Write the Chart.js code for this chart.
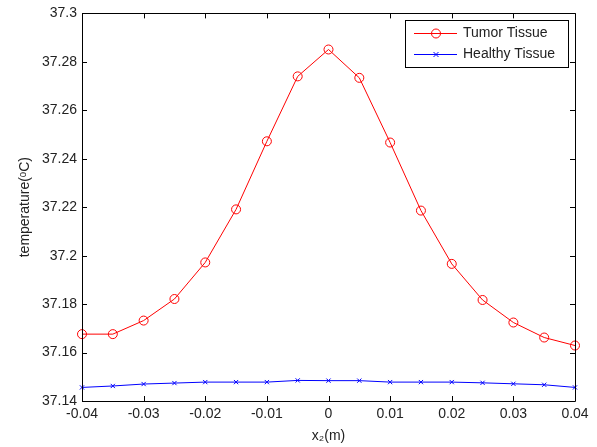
<!DOCTYPE html>
<html>
<head>
<meta charset="utf-8">
<script src="https://cdn.jsdelivr.net/npm/chart.js@4/dist/chart.umd.min.js"></script>
<style>
  body { margin: 0; background: #fff; }
  canvas { display: block; }
</style>
</head>
<body>
<canvas id="tempChart" width="597" height="447"></canvas>
<script>
// positions along x2 (m)
const xPositions = [-0.04, -0.035, -0.03, -0.025, -0.02, -0.015, -0.01, -0.005, 0, 0.005, 0.01, 0.015, 0.02, 0.025, 0.03, 0.035, 0.04];
const tumorTemps = [37.1676, 37.1676, 37.1732, 37.1821, 37.1972, 37.2191, 37.2472, 37.2740, 37.2851, 37.2734, 37.2467, 37.2186, 37.1966, 37.1817, 37.1724, 37.1662, 37.1629];
const healthyTemps = [37.1456, 37.1462, 37.1470, 37.1474, 37.1478, 37.1478, 37.1478, 37.1485, 37.1484, 37.1484, 37.1478, 37.1478, 37.1478, 37.1475, 37.1471, 37.1467, 37.1456];
const seriesNames = ['Tumor Tissue', 'Healthy Tissue'];
const xTicks = [-0.04, -0.03, -0.02, -0.01, 0, 0.01, 0.02, 0.03, 0.04];
const yTicks = [37.14, 37.16, 37.18, 37.2, 37.22, 37.24, 37.26, 37.28, 37.3];

const FONT = 'Liberation Sans, Arial, sans-serif';
const TEXT = '#222';

const toPoints = (ys) => ys.map((y, i) => ({ x: xPositions[i], y: y }));

// draws the matlab style box, inward ticks and the legend
const matlabAxes = {
  id: 'matlabAxes',
  afterDatasetsDraw(chart) {
    const { ctx, chartArea: a, scales } = chart;
    const t = 5;
    ctx.save();
    ctx.strokeStyle = '#000';
    ctx.lineWidth = 1;
    ctx.beginPath();
    ctx.rect(Math.round(a.left) + 0.5, Math.round(a.top) + 0.5, Math.round(a.right - a.left), Math.round(a.bottom - a.top));
    ctx.stroke();

    ctx.beginPath();
    xTicks.forEach(v => {
      const px = Math.round(scales.x.getPixelForValue(v)) + 0.5;
      ctx.moveTo(px, a.bottom); ctx.lineTo(px, a.bottom - t);
      ctx.moveTo(px, a.top); ctx.lineTo(px, a.top + t);
    });
    yTicks.forEach(v => {
      const py = Math.round(scales.y.getPixelForValue(v)) + 0.5;
      ctx.moveTo(a.left, py); ctx.lineTo(a.left + t, py);
      ctx.moveTo(a.right, py); ctx.lineTo(a.right - t, py);
    });
    ctx.stroke();

    // legend box
    const lx = 405.5, ly = 20.5, lw = 163, lh = 47;
    ctx.fillStyle = '#fff';
    ctx.fillRect(lx, ly, lw, lh);
    ctx.strokeStyle = '#000';
    ctx.strokeRect(lx, ly, lw, lh);

    const rows = [
      { color: '#ff0000', marker: 'circle', y: 33.5 },
      { color: '#0000ff', marker: 'cross', y: 54.5 }
    ];
    ctx.font = '14px ' + FONT;
    ctx.textBaseline = 'middle';
    ctx.textAlign = 'left';
    rows.forEach((r, i) => {
      ctx.strokeStyle = r.color;
      ctx.beginPath();
      ctx.moveTo(414, r.y); ctx.lineTo(457, r.y);
      ctx.stroke();
      ctx.beginPath();
      if (r.marker === 'circle') {
        ctx.arc(436, r.y, 4.5, 0, Math.PI * 2);
      } else {
        ctx.moveTo(433.5, r.y - 2.5); ctx.lineTo(438.5, r.y + 2.5);
        ctx.moveTo(433.5, r.y + 2.5); ctx.lineTo(438.5, r.y - 2.5);
      }
      ctx.stroke();
      ctx.fillStyle = TEXT;
      ctx.fillText(seriesNames[i], 463, r.y);
    });
    ctx.restore();
  }
};

const fmt = (v) => String(Number(Number(v).toFixed(3)));

new Chart(document.getElementById('tempChart'), {
  type: 'line',
  data: {
    datasets: [
      {
        label: seriesNames[0],
        data: toPoints(tumorTemps),
        borderColor: '#ff0000',
        borderWidth: 1,
        pointStyle: 'circle',
        pointRadius: 4.5,
        pointBorderColor: '#ff0000',
        pointBackgroundColor: 'rgba(0,0,0,0)',
        pointBorderWidth: 1,
        tension: 0,
        clip: false
      },
      {
        label: seriesNames[1],
        data: toPoints(healthyTemps),
        borderColor: '#0000ff',
        borderWidth: 1,
        pointStyle: 'crossRot',
        pointRadius: 3,
        pointBorderColor: '#0000ff',
        pointBorderWidth: 1,
        tension: 0,
        clip: false
      }
    ]
  },
  options: {
    responsive: false,
    animation: false,
    layout: { padding: { top: 12, right: 22, left: 0, bottom: 0 } },
    plugins: {
      legend: { display: false },
      tooltip: { enabled: false }
    },
    scales: {
      x: {
        type: 'linear',
        min: -0.04,
        max: 0.04,
        afterBuildTicks: (s) => { s.ticks = xTicks.map(v => ({ value: v })); },
        afterFit: (s) => { s.height = 46; },
        grid: { display: false, drawTicks: false },
        border: { display: false },
        ticks: { padding: 5, color: TEXT, font: { family: FONT, size: 14 }, callback: fmt, maxRotation: 0 },
        title: { display: true, text: 'x₂(m)', color: TEXT, font: { family: FONT, size: 14 }, padding: { top: 0, bottom: 2 } }
      },
      y: {
        type: 'linear',
        min: 37.14,
        max: 37.3,
        afterBuildTicks: (s) => { s.ticks = yTicks.map(v => ({ value: v })); },
        afterFit: (s) => { s.width = 82; },
        grid: { display: false, drawTicks: false },
        border: { display: false },
        ticks: { padding: 5, color: TEXT, font: { family: FONT, size: 14 }, callback: fmt },
        title: { display: true, text: 'temperature(ᵒC)', color: TEXT, font: { family: FONT, size: 14 }, padding: { top: 17, bottom: 0 } }
      }
    }
  },
  plugins: [matlabAxes]
});
</script>
</body>
</html>
